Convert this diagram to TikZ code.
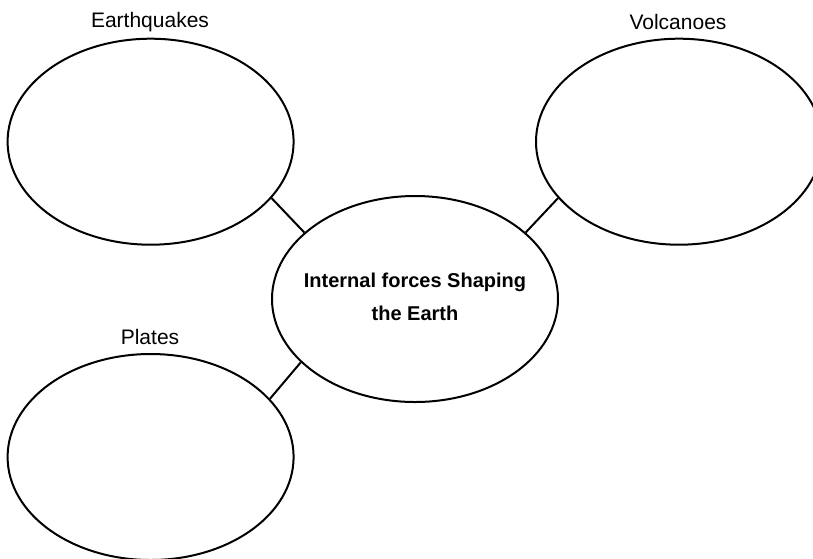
\documentclass[tikz,border=0pt]{standalone}
\usepackage{fontspec}
\setmainfont{Liberation Sans}
\usetikzlibrary{shapes.geometric}
\begin{document}
\begin{tikzpicture}[x=1pt,y=-1pt,
  bubble/.style={draw=black,line width=2pt,ellipse,minimum width=286pt,minimum height=206pt,inner sep=0pt},
  link/.style={draw=black,line width=2pt},
  lbl/.style={font=\fontsize{21}{24}\selectfont,inner sep=0pt},
  ctext/.style={font=\bfseries\fontsize{20}{33}\selectfont,align=center,inner sep=0pt}]
\useasboundingbox (0,0) rectangle (813,558);
\node[bubble] (eq) at (150.6,141.7) {};
\node[bubble] (vo) at (679,141.7) {};
\node[bubble] (pl) at (150.6,457) {};
\node[bubble] (c) at (415,299) {};
\node[ctext] (ct) at (415,297) {Internal forces Shaping\\the Earth};
\node[lbl] (leq) at (150,22) {Earthquakes};
\node[lbl] (lvo) at (678,22) {Volcanoes};
\node[lbl] (lpl) at (150,337) {Plates};
\draw[link] (c.149.6) -- (eq.-25.2);
\draw[link] (c.31.2) -- (vo.205.1);
\draw[link] (c.209.7) -- (pl.26.5);
\end{tikzpicture}
\end{document}
